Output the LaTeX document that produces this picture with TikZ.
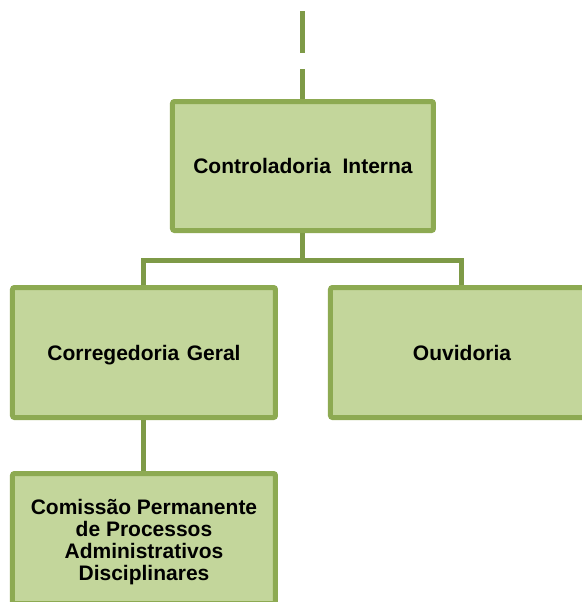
\documentclass[tikz,border=0pt]{standalone}
\usepackage{fontspec}
\setmainfont{Liberation Sans}
\definecolor{boxfill}{HTML}{C3D69B}
\definecolor{boxline}{HTML}{8DAA52}
\definecolor{linkline}{HTML}{7E9A47}
\begin{document}
\begin{tikzpicture}[x=0.5pt, y=-0.5pt, thick]
                \tikzstyle{unit}=[rectangle, draw=boxline, fill=boxfill, line width=2.5pt, rounded corners=1pt, minimum width=131.5pt, minimum height=65pt, inner sep=2pt, align=center, font=\fontsize{10.5}{11}\selectfont\bfseries]
                \tikzstyle{link}=[draw=linkline, line width=2.5pt]
                \useasboundingbox (0,0) rectangle (582,602);

                \node[unit, minimum width=130.5pt, minimum height=64.5pt] (ci) at (303, 166) {Controladoria~~Interna};
                \node[unit, text depth=0pt] (cg) at (144, 352.5) {Corregedoria\hspace{0.36em}Geral};
                \node[unit] (ouv) at (462, 352.5) {Ouvidoria};
                \node[unit] (cpad) at (144, 538.5) {\rule{0pt}{11pt}Comissão Permanente\\de Processos\\Administrativos\\Disciplinares};

                \coordinate (top) at (303, 11);
                \coordinate (bus) at (303, 260);

                \path[link, dash pattern=on 21pt off 8pt] (top) edge (ci.north);
                \path[link] (ci) edge (bus);
                \draw[link] (cg.north) |- (bus) -| (ouv.north);
                \path[link] (cg) edge (cpad);
            \end{tikzpicture}
\end{document}
